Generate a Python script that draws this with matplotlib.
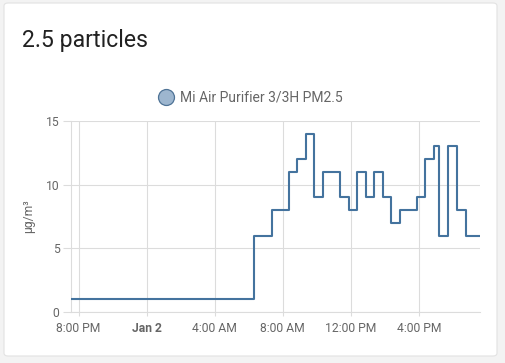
import datetime as dt
import matplotlib
matplotlib.use("Agg")
import matplotlib.pyplot as plt
import matplotlib.dates as mdates
from matplotlib.patches import FancyBboxPatch
from matplotlib.lines import Line2D

# ---- data ----
change_times = [
    "2021-01-01 19:32", "2021-01-02 06:20", "2021-01-02 07:21", "2021-01-02 08:22",
    "2021-01-02 08:52", "2021-01-02 09:21", "2021-01-02 09:50", "2021-01-02 10:21",
    "2021-01-02 11:22", "2021-01-02 11:53", "2021-01-02 12:21", "2021-01-02 12:53",
    "2021-01-02 13:22", "2021-01-02 13:53", "2021-01-02 14:23", "2021-01-02 14:53",
    "2021-01-02 15:53", "2021-01-02 16:22", "2021-01-02 16:52", "2021-01-02 17:13",
    "2021-01-02 17:44", "2021-01-02 18:14", "2021-01-02 18:46", "2021-01-02 19:36",
]
pm25_values = [1, 6, 8, 11, 12, 14, 9, 11, 9, 8, 11, 9, 11, 9, 7, 8, 9, 12, 13, 6, 13, 8, 6, 6]
tick_times = ["2021-01-01 20:00", "2021-01-02 00:00", "2021-01-02 04:00",
              "2021-01-02 08:00", "2021-01-02 12:00", "2021-01-02 16:00"]
tick_labels = ["8:00 PM", "Jan 2", "4:00 AM", "8:00 AM", "12:00 PM", "4:00 PM"]
y_ticks = [0, 5, 10, 15]
series_name = "Mi Air Purifier 3/3H PM2.5"
title = "2.5 particles"
y_label = "µg/m³"

fmt = "%Y-%m-%d %H:%M"
times = [dt.datetime.strptime(t, fmt) for t in change_times]
ticks = [dt.datetime.strptime(t, fmt) for t in tick_times]

plt.rcParams['font.family'] = ['Roboto', 'DejaVu Sans']

W, H = 506, 363
fig = plt.figure(figsize=(W / 100, H / 100), dpi=100)
fig.patch.set_facecolor("#f3f3f3")

# card
card = FancyBboxPatch((4 / W, 1 - 356 / H), 493 / W, 353 / H,
                      boxstyle="round,pad=0,rounding_size=0.008",
                      transform=fig.transFigure, facecolor="white",
                      edgecolor="#e2e2e2", linewidth=0.8, zorder=-5)
fig.patches.append(card)

fig.text(22 / W, 1 - 41 / H, title, fontsize=16.6, color="#212121",
         va="center", ha="left")

left, right, top, bottom = 70.7, 480, 121, 312
ax = fig.add_axes([left / W, 1 - bottom / H, (right - left) / W, (bottom - top) / H])
ax.set_facecolor("none")
ax.set_zorder(2)

line_color = "#44739e"
ax.plot(times, pm25_values, drawstyle="steps-post", color=line_color, lw=1.5, zorder=3)

ax.set_xlim(times[0], times[-1])
ax.set_ylim(0, 15)
ax.set_yticks(y_ticks)
ax.set_xticks(ticks)
ax.set_xticklabels(tick_labels)
for lbl in ax.get_xticklabels():
    if lbl.get_text() == "Jan 2":
        lbl.set_fontweight("bold")

grid_c = "#dcdcdc"
ax.grid(True, color=grid_c, lw=0.8)
for s in ["top", "right"]:
    ax.spines[s].set_visible(False)
for s in ["left", "bottom"]:
    ax.spines[s].set_color(grid_c)
    ax.spines[s].set_linewidth(0.8)
ax.tick_params(axis="both", colors=grid_c, length=6, width=0.8,
               labelcolor="#666666", labelsize=8.7, pad=2)
ax.tick_params(axis="x", length=3, pad=4)

ax.set_ylabel(y_label, fontsize=8.7, color="#666666", labelpad=8)

# legend
fig.lines.append(Line2D([166 / W], [1 - 97 / H], marker="o", markersize=11.5,
                        markerfacecolor="#9db6cf", markeredgecolor="#4f7396",
                        markeredgewidth=0.9, transform=fig.transFigure))
fig.text(180 / W, 1 - 97 / H, series_name, fontsize=10, color="#666666",
         va="center", ha="left")

fig.savefig("out.png", dpi=100, facecolor=fig.get_facecolor())
